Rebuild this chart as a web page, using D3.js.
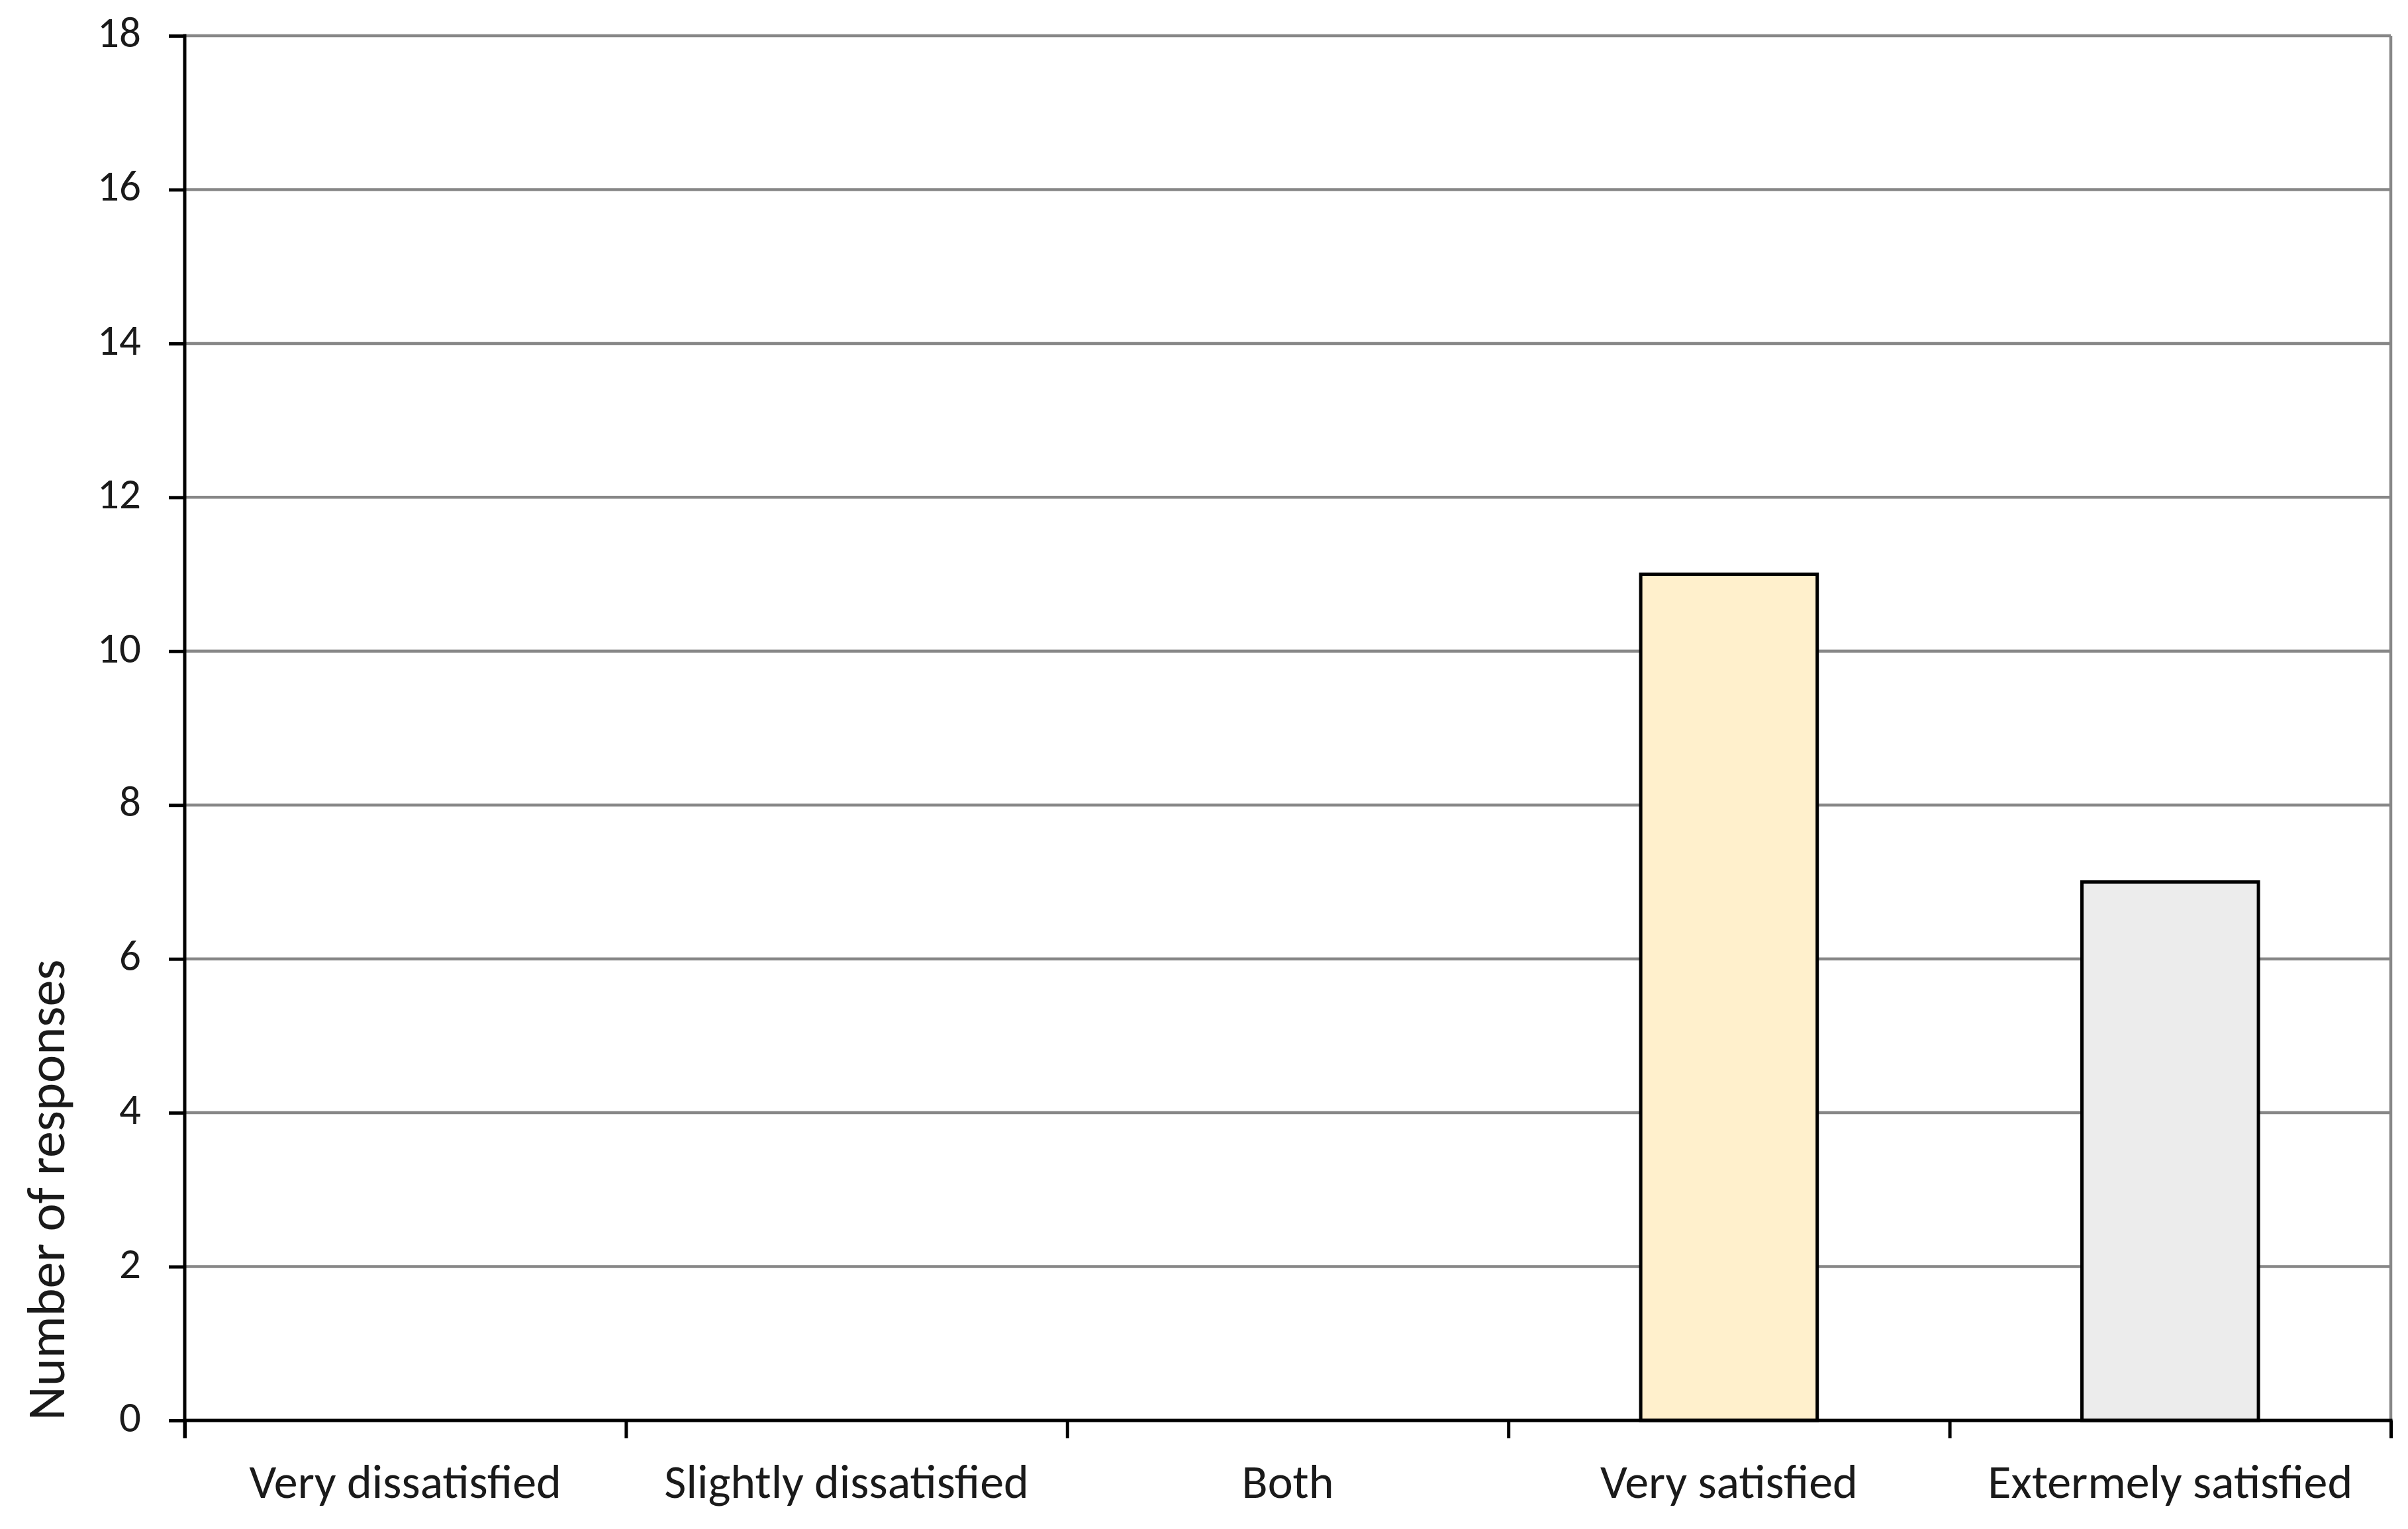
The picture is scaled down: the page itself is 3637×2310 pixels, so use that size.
<!DOCTYPE html>
<html>
<head>
<meta charset="utf-8">
<script src="https://cdn.jsdelivr.net/npm/d3@7"></script>
<style>
  html, body { margin: 0; padding: 0; background: #fff; }
  svg { display: block; }
  text { font-family: Carlito, Calibri, Lato, "Open Sans", sans-serif; fill: #1a1a1a; }
</style>
</head>
<body>
<script>
const categories = ["Very dissatisfied", "Slightly dissatisfied", "Both", "Very satisfied", "Extermely satisfied"];
const responses = [0, 0, 0, 11, 7];
const barColors = ["#FFF2CC", "#FFF2CC", "#FFF2CC", "#FFF0CC", "#ECECEC"];
const yTicks = [0, 2, 4, 6, 8, 10, 12, 14, 16, 18];
const yTitle = "Number of responses";

const W = 3637, H = 2310;
const m = { left: 279, right: 3611, top: 54, bottom: 2146 };
const FS_TICK = 65, FS_CAT = 72, FS_TITLE = 80;

const svg = d3.select("body").append("svg").attr("width", W).attr("height", H);
svg.append("rect").attr("width", W).attr("height", H).attr("fill", "#fff");

const x = d3.scaleBand().domain(categories).range([m.left, m.right]).paddingInner(0.6).paddingOuter(0.3);
const xEdge = d3.scaleLinear().domain([0, categories.length]).range([m.left, m.right]);
const y = d3.scaleLinear().domain([0, 18]).range([m.bottom, m.top]);

// gridlines
svg.append("g").selectAll("line").data(yTicks.filter(d => d > 0)).join("line")
  .attr("x1", m.left).attr("x2", m.right)
  .attr("y1", d => y(d)).attr("y2", d => y(d))
  .attr("stroke", "#878787").attr("stroke-width", 4.5);
// right border
svg.append("line").attr("x1", m.right).attr("x2", m.right).attr("y1", m.top).attr("y2", m.bottom)
  .attr("stroke", "#878787").attr("stroke-width", 4.5);

// bars
const data = categories.map((c, i) => ({ c, v: responses[i], col: barColors[i] }));
svg.append("g").selectAll("rect").data(data.filter(d => d.v > 0)).join("rect")
  .attr("x", d => x(d.c)).attr("width", x.bandwidth())
  .attr("y", d => y(d.v)).attr("height", d => y(0) - y(d.v))
  .attr("fill", d => d.col).attr("stroke", "#000").attr("stroke-width", 5);

// y axis
const yAxis = d3.axisLeft(y).tickValues(yTicks).tickSize(24).tickPadding(42).tickSizeOuter(0);
const gy = svg.append("g").attr("transform", `translate(${m.left},0)`).call(yAxis);
gy.select(".domain").remove();
gy.selectAll(".tick line").attr("stroke", "#000").attr("stroke-width", 5);
gy.selectAll(".tick text").attr("font-size", FS_TICK).attr("dy", null).attr("dominant-baseline", "central")
  .attr("y", -6).style("font-family", "Carlito, Calibri, Lato, sans-serif").attr("fill", "#1a1a1a");
svg.append("line").attr("x1", m.left).attr("x2", m.left).attr("y1", m.top - 2.5).attr("y2", m.bottom + 27)
  .attr("stroke", "#000").attr("stroke-width", 5);

// x axis edge ticks
const xAxisEdges = d3.axisBottom(xEdge).ticks(categories.length).tickSize(27).tickFormat("").tickSizeOuter(0);
const gxe = svg.append("g").attr("transform", `translate(0,${m.bottom})`).call(xAxisEdges);
gxe.select(".domain").remove();
gxe.selectAll(".tick line").attr("stroke", "#000").attr("stroke-width", 5);
svg.append("line").attr("x1", m.left - 2.5).attr("x2", m.right + 2.5).attr("y1", m.bottom).attr("y2", m.bottom)
  .attr("stroke", "#000").attr("stroke-width", 5);

// x labels
const xAxis = d3.axisBottom(x).tickSize(0).tickPadding(0);
const gx = svg.append("g").attr("transform", `translate(0,${m.bottom})`).call(xAxis);
gx.select(".domain").remove();
gx.selectAll(".tick text").attr("font-size", FS_CAT).attr("dy", null).attr("y", 117)
  .style("font-family", "Carlito, Calibri, Lato, sans-serif").attr("fill", "#1a1a1a");

// y title
svg.append("text").attr("transform", `translate(97,${y(0)}) rotate(-90)`)
  .attr("text-anchor", "start").attr("font-size", FS_TITLE).text(yTitle);
</script>
</body>
</html>
